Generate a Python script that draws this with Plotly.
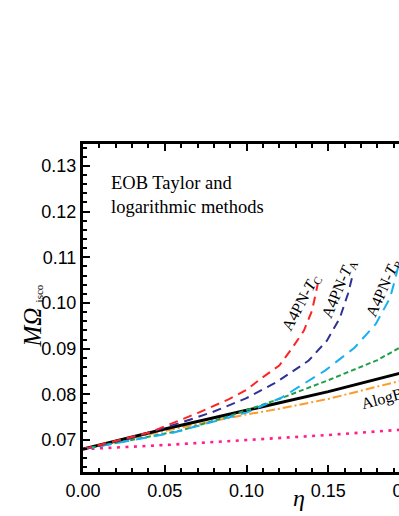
import plotly.graph_objects as go

# ---- data (eta, M*Omega_isco) ----
eta_c = [0.0, 0.030, 0.041, 0.070, 0.089, 0.0996, 0.109, 0.120, 0.128, 0.135, 0.140, 0.1435]
om_c = [0.0680, 0.0707, 0.0717, 0.0759, 0.0789, 0.0809, 0.0835, 0.0863, 0.0902, 0.0939, 0.0983, 0.1041]

eta_a = [0.0, 0.030, 0.059, 0.079, 0.0996, 0.118, 0.138, 0.149, 0.157, 0.162, 0.165]
om_a = [0.0680, 0.0705, 0.0737, 0.0761, 0.0791, 0.0826, 0.0874, 0.0917, 0.0967, 0.1020, 0.1063]

eta_b = [0.0, 0.035, 0.055, 0.100, 0.1215, 0.148, 0.166, 0.179, 0.1877, 0.191, 0.196]
om_b = [0.0680, 0.0702, 0.0716, 0.0760, 0.0793, 0.0852, 0.0902, 0.0954, 0.1011, 0.1054, 0.1130]

eta_g = [0.0, 0.03, 0.06, 0.09, 0.12, 0.15, 0.18, 0.20]
om_g = [0.0680, 0.0700, 0.0721, 0.0753, 0.0790, 0.0831, 0.0875, 0.0915]

eta_k = [0.0, 0.05, 0.10, 0.15, 0.20]
om_k = [0.0680, 0.0724, 0.0765, 0.0806, 0.0852]

eta_o = [0.0, 0.05, 0.10, 0.118, 0.15, 0.192, 0.20]
om_o = [0.0680, 0.0720, 0.0756, 0.0767, 0.0790, 0.0827, 0.0835]

eta_m = [0.0, 0.05, 0.10, 0.15, 0.192, 0.20]
om_m = [0.0680, 0.0689, 0.0700, 0.0711, 0.0722, 0.0724]

serif = "Liberation Serif, Times New Roman, serif"
sans = "Liberation Sans, Arial, sans-serif"

fig = go.Figure()

def add_line(x, y, color, dash, width=2):
    fig.add_trace(go.Scatter(x=x, y=y, mode="lines",
                             line=dict(color=color, dash=dash, width=width),
                             showlegend=False, hoverinfo="skip"))

add_line(eta_m, om_m, "#ff1e8c", "3px,5.5px", 2.6)
add_line(eta_o, om_o, "#ff9a2a", "9px,3px,2px,3px")
add_line(eta_k, om_k, "black", "solid", 3)
add_line(eta_g, om_g, "#1fa048", "5px,3px")
add_line(eta_b, om_b, "#18b0f0", "11px,7px")
add_line(eta_a, om_a, "#2f3194", "9px,6px")
add_line(eta_c, om_c, "#ff2424", "9px,6px")

# curve labels
labels = [
    ("A4PN-<i>T</i><sub>C</sub>", 0.1337, 0.1000, -62),
    ("A4PN-<i>T</i><sub>A</sub>", 0.1567, 0.1031, -67),
    ("A4PN-<i>T</i><sub>B</sub>", 0.1841, 0.1033, -66),
    ("AlogB", 0.1829, 0.0790, -15),
]
for txt, xx, yy, ang in labels:
    fig.add_annotation(x=xx, y=yy, xref="x", yref="y", text=txt, showarrow=False,
                       textangle=ang, font=dict(family=serif, size=16, color="black"))

fig.add_annotation(x=0.06, y=0.8445, xref="paper", yref="paper", xanchor="left", yanchor="middle",
                   align="left", showarrow=False,
                   text="EOB Taylor and<br>logarithmic methods",
                   font=dict(family=serif, size=18.5, color="black"))

# axis titles
fig.add_annotation(x=0.5, y=-0.125, xref="paper", yref="paper", showarrow=False,
                   text="<i>η</i>", font=dict(family=serif, size=24, color="black"))
fig.add_annotation(x=-0.152, y=0.4405, xref="paper", yref="paper", showarrow=False, textangle=-90,
                   text="<i>MΩ</i>", font=dict(family=serif, size=25, color="black"))
fig.add_annotation(x=-0.1198, y=0.5457, xref="paper", yref="paper", showarrow=False, textangle=-90,
                   text="isco", font=dict(family=serif, size=11, color="black"))

axis_common = dict(showline=True, linewidth=3, linecolor="black", mirror="allticks",
                   ticks="inside", ticklen=7, tickwidth=2, tickcolor="black",
                   showgrid=False, zeroline=False, tickformat=".2f",
                   tickfont=dict(family=sans, size=18, color="black"))

fig.update_xaxes(range=[0, 0.2635], tick0=0, dtick=0.05,
                 minor=dict(dtick=0.01, ticks="inside", ticklen=4, tickwidth=2, tickcolor="black"),
                 **axis_common)
fig.update_yaxes(range=[0.063, 0.1348], tick0=0, dtick=0.01,
                 minor=dict(dtick=0.002, ticks="inside", ticklen=4, tickwidth=2, tickcolor="black"),
                 **axis_common)

fig.update_layout(width=520, height=516,
                  margin=dict(l=83, r=3, t=144, b=44),
                  plot_bgcolor="white", paper_bgcolor="white")

# page is wider than the window on purpose: the reference is cropped at the right
fig.write_html("out.html", config={"displayModeBar": False},
               post_script="document.body.style.margin='0';"
                           "document.body.style.overflow='hidden';"
                           "document.documentElement.style.overflow='hidden';")
